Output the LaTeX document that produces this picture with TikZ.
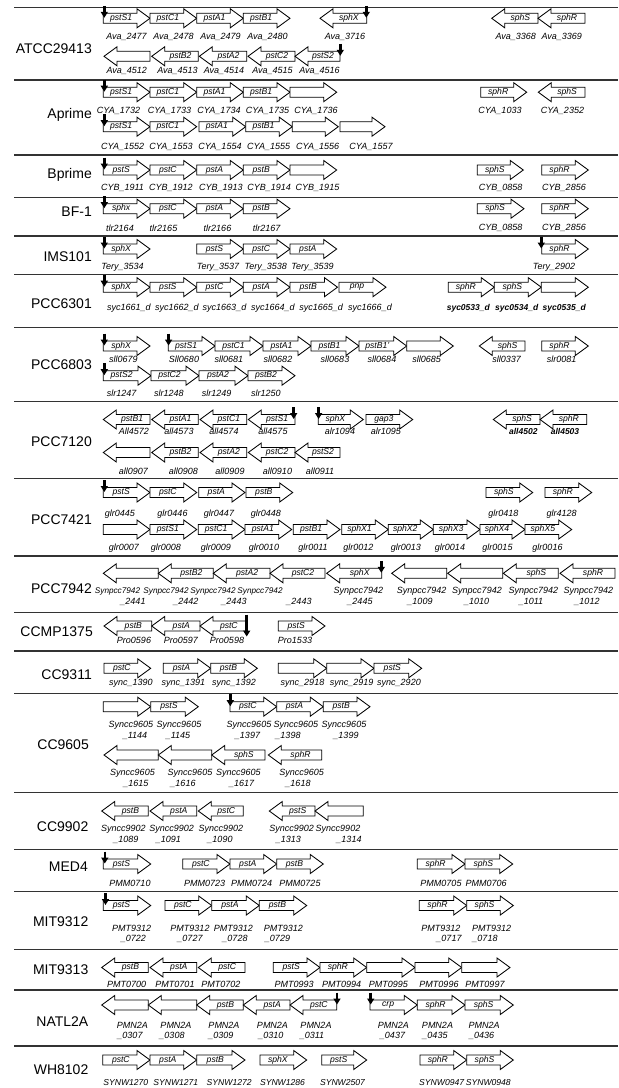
\documentclass[tikz,border=0pt]{standalone}
\usepackage{fontspec}
\setmainfont{Liberation Sans}
\usetikzlibrary{arrows.meta}
\newcounter{gn}\newcounter{gi}\newcounter{mk}\newcounter{og}
\tikzset{
  genebox/.style={draw=black,line width=0.85pt,fill=white,line join=miter},
  gname/.style={font=\fontsize{8.6}{9}\selectfont\itshape,inner sep=0pt},
  gidst/.style={font=\fontsize{9}{10}\selectfont\itshape,inner sep=0pt},
  gidsm/.style={font=\fontsize{8.2}{10}\selectfont\itshape,inner sep=0pt},
  gidbf/.style={font=\fontsize{8.5}{10}\selectfont\itshape\bfseries,inner sep=0pt},
  pmarker/.style={line width=2.6pt,-{Triangle[width=7pt,length=6pt]}},
  sepline/.style={line width=1.1pt,draw=black!80},
  orglabel/.style={font=\fontsize{14}{16}\selectfont,anchor=east,inner sep=0pt}
}
% right-pointing gene: tail x, tip x, centre y, name
\newcommand\geneR[4]{\stepcounter{gn}%
  \draw[genebox] (#1,#3-5) -- (#2-13,#3-5) -- (#2-13,#3-9.5) -- (#2,#3) -- (#2-13,#3+9.5) -- (#2-13,#3+5) -- (#1,#3+5) -- cycle;
  \node[gname] (g\thegn) at ({(#1+#2-13)/2+1},#3) {#4};}
% left-pointing gene: tip x, tail x, centre y, name
\newcommand\geneL[4]{\stepcounter{gn}%
  \draw[genebox] (#2,#3-5) -- (#1+13,#3-5) -- (#1+13,#3-9.5) -- (#1,#3) -- (#1+13,#3+9.5) -- (#1+13,#3+5) -- (#2,#3+5) -- cycle;
  \node[gname] (g\thegn) at ({(#1+13+#2)/2-1},#3) {#4};}
\newcommand\gid[3]{\stepcounter{gi}\node[gidst] (l\thegi) at (#1,#2) {#3};}
\newcommand\gids[3]{\stepcounter{gi}\node[gidst,font=\fontsize{8.6}{10}\selectfont\itshape] (l\thegi) at (#1,#2) {#3};}
\newcommand\gidb[3]{\stepcounter{gi}\node[gidbf] (l\thegi) at (#1,#2) {#3};}
\newcommand\gidd[6]{\stepcounter{gi}\node[gidst] (l\thegi a) at (#1,#3) {#5};\node[gidst] (l\thegi b) at (#2,#4) {#6};}
\newcommand\giddsm[6]{\stepcounter{gi}\node[gidsm] (l\thegi a) at (#1,#3) {#5};\node[gidst] (l\thegi b) at (#2,#4) {#6};}
\newcommand\pmark[2]{\stepcounter{mk}\coordinate (m\themk a) at (#1,#2-12.5);\coordinate (m\themk b) at (#1,#2-0.5);\draw[pmarker] (m\themk a) -- (m\themk b);}
\newcommand\org[3]{\stepcounter{og}\node[orglabel] (o\theog) at (#1,#2) {#3};}
\begin{document}
\begin{tikzpicture}[x=1pt,y=-1pt]
\useasboundingbox[fill=white] (0,0) rectangle (619,1088);
% separators
\foreach \yy [count=\i] in {7.3,80,155,197.3,236,274.3,327.7,401.7,478.3,556,612.7,651,693.3,792.7,849.3,891.7,949.3,990,1046}{
  \coordinate (sa\i) at (14,\yy); \coordinate (sb\i) at (618,\yy);
  \draw[sepline] (sa\i) -- (sb\i);}
% organism labels
\org{92}{48.3}{ATCC29413}
\org{92}{115}{Aprime}
\org{92}{175}{Bprime}
\org{92}{211.7}{BF-1}
\org{92}{256.7}{IMS101}
\org{92}{303.3}{PCC6301}
\org{92}{365}{PCC6803}
\org{92}{441.7}{PCC7120}
\org{92}{520}{PCC7421}
\org{92}{588.3}{PCC7942}
\org{93}{631.7}{CCMP1375}
\org{92}{675}{CC9311}
\org{89}{745}{CC9605}
\org{88.5}{826.7}{CC9902}
\org{88}{866.7}{MED4}
\org{88.5}{921.7}{MIT9312}
\org{88.5}{970}{MIT9313}
\org{88.5}{1021.7}{NATL2A}
\org{88.5}{1070}{WH8102}
% ATCC29413 row 1
\geneR{103.3}{150}{18.3}{pstS1}\geneR{150}{196.7}{18.3}{pstC1}\geneR{196.7}{243.3}{18.3}{pstA1}\geneR{243.3}{290}{18.3}{pstB1}
\geneL{320}{366.7}{18.3}{sphX}\geneL{491.7}{538}{18.3}{sphS}\geneL{538}{585}{18.3}{sphR}
\pmark{104.3}{18.3}\pmark{366.3}{18.3}
\gid{126.5}{36.8}{Ava\_2477}\gid{173.5}{36.8}{Ava\_2478}\gid{220.5}{36.8}{Ava\_2479}\gid{267.5}{36.8}{Ava\_2480}
\gid{345}{36.8}{Ava\_3716}\gid{515.7}{36.8}{Ava\_3368}\gid{561.7}{36.8}{Ava\_3369}
% ATCC29413 row 2
\geneL{104}{150}{56.3}{}\geneL{151.7}{198.3}{56.3}{pstB2}\geneL{199.3}{246.7}{56.3}{pstA2}\geneL{248}{295}{56.3}{pstC2}\geneL{295}{340}{56.3}{pstS2}
\pmark{340.3}{56.3}
\gid{126.7}{71}{Ava\_4512}\gid{177.5}{71}{Ava\_4513}\gid{224}{71}{Ava\_4514}\gid{272.5}{71}{Ava\_4515}\gid{319.5}{71}{Ava\_4516}
% Aprime row 1
\geneR{103.3}{150}{92.2}{pstS1}\geneR{150}{196.7}{92.2}{pstC1}\geneR{196.7}{243.3}{92.2}{pstA1}\geneR{243.3}{290}{92.2}{pstB1}\geneR{290}{336.7}{92.2}{}
\geneR{480.7}{526.7}{92.2}{sphR}\geneL{538.3}{585}{92.2}{sphS}
\pmark{104.3}{92.2}
\gid{118.5}{111}{CYA\_1732}\gid{169.5}{111}{CYA\_1733}\gid{219}{111}{CYA\_1734}\gid{267.5}{111}{CYA\_1735}\gid{316}{111}{CYA\_1736}
\gid{500}{111}{CYA\_1033}\gid{562.5}{111}{CYA\_2352}
% Aprime row 2
\geneR{103.3}{150}{126.7}{pstS1}\geneR{150}{196.7}{126.7}{pstC1}\geneR{199}{245.7}{126.7}{pstA1}\geneR{245.7}{292.3}{126.7}{pstB1}\geneR{292.3}{338.3}{126.7}{}\geneR{340}{385}{126.7}{}
\pmark{104.3}{126.7}
\gid{122.7}{146.7}{CYA\_1552}\gid{171}{146.7}{CYA\_1553}\gid{220}{146.7}{CYA\_1554}\gid{268.7}{146.7}{CYA\_1555}\gid{317.7}{146.7}{CYA\_1556}\gid{371}{146.7}{CYA\_1557}
% Bprime
\geneR{103.3}{150}{170}{pstS}\geneR{150}{196.7}{170}{pstC}\geneR{196.7}{243.3}{170}{pstA}\geneR{243.3}{290}{170}{pstB}\geneR{290}{336.7}{170}{}
\geneR{477.3}{523.3}{170}{sphS}\geneR{541.7}{588.3}{170}{sphR}
\pmark{104.3}{170}
\gid{122.5}{188.3}{CYB\_1911}\gid{170.8}{188.3}{CYB\_1912}\gid{220.8}{188.3}{CYB\_1913}\gid{269.2}{188.3}{CYB\_1914}\gid{317.5}{188.3}{CYB\_1915}
\gid{500.7}{188.3}{CYB\_0858}\gid{564}{188.3}{CYB\_2856}
% BF-1
\geneR{103.3}{150}{208.7}{sphx}\geneR{150}{196.7}{208.7}{pstC}\geneR{196.7}{243.3}{208.7}{pstA}\geneR{243.3}{290}{208.7}{pstB}
\geneR{477.3}{524}{208.7}{sphS}\geneR{541.7}{588.3}{208.7}{sphR}
\pmark{104.3}{208.7}
\gid{120}{228.3}{tlr2164}\gid{163.5}{228.3}{tlr2165}\gid{217.5}{228.3}{tlr2166}\gid{266.7}{228.3}{tlr2167}
\gid{500.7}{228.3}{CYB\_0858}\gid{564}{228.3}{CYB\_2856}
% IMS101
\geneR{103.3}{150}{249}{sphX}\geneR{196.7}{243.3}{249}{pstS}\geneR{243.3}{290}{249}{pstC}\geneR{290}{336.7}{249}{pstA}
\geneR{541.7}{588.3}{249}{sphR}
\pmark{104.3}{249}\pmark{541.3}{249}
\gid{122.5}{267.3}{Tery\_3534}\gid{218}{267.3}{Tery\_3537}\gid{265.8}{267.3}{Tery\_3538}\gid{312.5}{267.3}{Tery\_3539}\gid{554}{267.3}{Tery\_2902}
% PCC6301
\geneR{103.3}{150}{287.2}{sphX}\geneR{150}{196.7}{287.2}{pstS}\geneR{196.7}{243.3}{287.2}{pstC}\geneR{243.3}{290}{287.2}{pstA}\geneR{290}{337.5}{287.2}{pstB}\geneR{339}{386}{287.2}{pnp}
\geneR{448.3}{494.3}{287.2}{sphR}\geneR{494.3}{541.3}{287.2}{sphS}\geneR{541.3}{588.3}{287.2}{}
\pmark{104.3}{287.2}
\gid{128.8}{308.3}{syc1661\_d}\gid{176.8}{308.3}{syc1662\_d}\gid{224.5}{308.3}{syc1663\_d}\gid{272.8}{308.3}{syc1664\_d}\gid{321.2}{308.3}{syc1665\_d}\gid{370}{308.3}{syc1666\_d}
\gidb{468.3}{308.3}{syc0533\_d}\gidb{516.7}{308.3}{syc0534\_d}\gidb{564.2}{308.3}{syc0535\_d}
% PCC6803 row 1
\geneR{103.3}{150}{346}{sphX}\geneR{168.3}{215}{346}{pstS1}\geneR{215}{263}{346}{pstC1}\geneR{263}{311}{346}{pstA1}\geneR{311}{359}{346}{pstB1}\geneR{359}{406.7}{346}{pstB1'}\geneR{406.7}{453.3}{346}{}
\geneL{479.3}{525}{346}{sphS}\geneR{541.7}{588.3}{346}{sphR}
\pmark{104.3}{346}\pmark{168.6}{346}
\gid{123.3}{359.5}{sll0679}\gid{184}{359.5}{Sll0680}\gid{229}{359.5}{sll0681}\gid{278}{359.5}{sll0682}\gid{335}{359.5}{sll0683}\gid{382}{359.5}{sll0684}\gid{426.7}{359.5}{sll0685}
\gid{506.7}{359.5}{sll0337}\gid{561.7}{359.5}{slr0081}
% PCC6803 row 2
\geneR{103.3}{151}{375.7}{pstS2}\geneR{151}{199}{375.7}{pstC2}\geneR{199}{248}{375.7}{pstA2}\geneR{248}{295}{375.7}{pstB2}
\pmark{104.3}{375.7}
\gid{121.7}{393.3}{slr1247}\gid{169}{393.3}{slr1248}\gid{216.7}{393.3}{slr1249}\gid{265.8}{393.3}{slr1250}
% PCC7120 row 1
\geneL{103.3}{150}{419.5}{pstB1}\geneL{151.7}{198.3}{419.5}{pstA1}\geneL{200}{246.7}{419.5}{pstC1}\geneL{248.3}{295}{419.5}{pstS1}
\geneR{318.3}{363.3}{419.5}{sphX}\geneR{366}{412.7}{419.5}{gap3}
\geneL{493.3}{540}{419.5}{sphS}\geneL{540}{586.7}{419.5}{sphR}
\pmark{293.7}{419.5}\pmark{318.6}{419.5}
\gid{134}{431.7}{All4572}\gid{179}{431.7}{all4573}\gid{224}{431.7}{all4574}\gid{273}{431.7}{all4575}\gid{340}{431.7}{alr1094}\gid{385.8}{431.7}{alr1095}
\gidb{523.3}{431.7}{all4502}\gidb{565}{431.7}{all4503}
% PCC7120 row 2
\geneL{103.3}{150}{452.5}{}\geneL{151.7}{198.3}{452.5}{pstB2}\geneL{200}{246.7}{452.5}{pstA2}\geneL{248.3}{295}{452.5}{pstC2}\geneL{295}{340}{452.5}{pstS2}
\gid{133.3}{471.7}{all0907}\gid{183.3}{471.7}{all0908}\gid{230}{471.7}{all0909}\gid{277.5}{471.7}{all0910}\gid{320}{471.7}{all0911}
% PCC7421 row 1
\geneR{103.3}{150}{492.5}{pstS}\geneR{150}{196.7}{492.5}{pstC}\geneR{198.7}{245}{492.5}{pstA}\geneR{246}{292.7}{492.5}{pstB}
\geneR{486}{532.7}{492.5}{sphS}\geneR{545}{591.7}{492.5}{sphR}
\pmark{104.3}{492.5}
\gid{120}{514}{glr0445}\gid{172.5}{514}{glr0446}\gid{219}{514}{glr0447}\gid{265.8}{514}{glr0448}\gid{503.3}{514}{glr0418}\gid{561.7}{514}{glr4128}
% PCC7421 row 2
\geneR{103.3}{150}{529.5}{}\geneR{150}{196.7}{529.5}{pstS1}\geneR{198.3}{245}{529.5}{pstC1}\geneR{245}{291.7}{529.5}{pstA1}\geneR{293.3}{340}{529.5}{pstB1}
\geneR{341.7}{388.3}{529.5}{sphX1}\geneR{388.3}{433.3}{529.5}{sphX2}\geneR{433.3}{480}{529.5}{sphX3}\geneR{480}{525}{529.5}{sphX4}\geneR{525}{571.7}{529.5}{sphX5}
\gid{124}{548.3}{glr0007}\gid{165.8}{548.3}{glr0008}\gid{215.8}{548.3}{glr0009}\gid{264}{548.3}{glr0010}\gid{313}{548.3}{glr0011}
\gid{358.3}{548.3}{glr0012}\gid{405.8}{548.3}{glr0013}\gid{450}{548.3}{glr0014}\gid{497.5}{548.3}{glr0015}\gid{547.5}{548.3}{glr0016}
% PCC7942
\geneL{103.3}{158.3}{573.3}{}\geneL{158.3}{213.3}{573.3}{pstB2}\geneL{213.3}{270}{573.3}{pstA2}\geneL{270}{325}{573.3}{pstC2}\geneL{326.7}{381.7}{573.3}{sphX}
\geneL{391.7}{446.7}{573.3}{}\geneL{447.7}{502.7}{573.3}{}\geneL{503.3}{558.3}{573.3}{sphS}\geneL{560}{615}{573.3}{sphR}
\pmark{381.3}{573.3}
\giddsm{117.5}{133}{591.7}{602.3}{Synpcc7942}{\_2441}\giddsm{166}{185.8}{591.7}{602.3}{Synpcc7942}{\_2442}
\giddsm{213}{234}{591.7}{602.3}{Synpcc7942}{\_2443}\giddsm{260}{299}{591.7}{602.3}{Synpcc7942}{\_2443}
\gidd{358.3}{360}{591.7}{602.3}{Synpcc7942}{\_2445}\gidd{421.7}{420}{591.7}{602.3}{Synpcc7942}{\_1009}\gidd{477}{476.7}{591.7}{602.3}{Synpcc7942}{\_1010}
\gidd{533.3}{531}{591.7}{602.3}{Synpcc7942}{\_1011}\gidd{588.3}{587}{591.7}{602.3}{Synpcc7942}{\_1012}
% CCMP1375
\geneL{104}{151.7}{626}{pstB}\geneL{151.7}{200}{626}{pstA}\geneL{200}{246.7}{626}{pstC}\geneR{278.3}{325}{626}{pstS}
\coordinate (cma) at (246.7,614.5);\coordinate (cmb) at (246.7,636.5);\draw[pmarker] (cma) -- (cmb);
\gid{134}{640.5}{Pro0596}\gid{180.8}{640.5}{Pro0597}\gid{227}{640.5}{Pro0598}\gid{295}{640.5}{Pro1533}
% CC9311
\geneR{104}{150.7}{668.3}{pstC}\geneR{163.3}{210.7}{668.3}{pstA}\geneR{210.7}{257.3}{668.3}{pstB}\geneR{278.3}{326.7}{668.3}{}\geneR{326.7}{374}{668.3}{}\geneR{374}{421.7}{668.3}{pstS}
\gid{130.8}{683.3}{sync\_1390}\gid{183.3}{683.3}{sync\_1391}\gid{234}{683.3}{sync\_1392}\gid{302.5}{683.3}{sync\_2918}\gid{351.7}{683.3}{sync\_2919}\gid{399}{683.3}{sync\_2920}
% CC9605 row 1
\geneR{103.3}{150.7}{706.7}{}\geneR{150.7}{198.3}{706.7}{pstS}\geneR{230}{276.7}{706.7}{pstC}\geneR{276.7}{323.3}{706.7}{pstA}\geneR{323.3}{370}{706.7}{pstB}
\pmark{230.3}{706.7}
\gidd{130.8}{135}{725}{735.5}{Syncc9605}{\_1144}\gidd{179}{178}{725}{735.5}{Syncc9605}{\_1145}\gidd{249}{247.5}{725}{735.5}{Syncc9605}{\_1397}
\gidd{295.8}{288}{725}{735.5}{Syncc9605}{\_1398}\gidd{344}{346}{725}{735.5}{Syncc9605}{\_1399}
% CC9605 row 2
\geneL{104}{158.3}{755}{}\geneL{158.3}{211.7}{755}{}\geneL{211.7}{265}{755}{sphS}\geneL{268.3}{321.7}{755}{sphR}
\gidd{132.5}{135.8}{773.3}{784}{Syncc9605}{\_1615}\gidd{190}{183}{773.3}{784}{Syncc9605}{\_1616}\gidd{238.3}{241.7}{773.3}{784}{Syncc9605}{\_1617}\gidd{301.7}{298}{773.3}{784}{Syncc9605}{\_1618}
% CC9902
\geneL{101.7}{148.3}{811}{pstB}\geneL{150}{196.7}{811}{pstA}\geneL{198.3}{243.3}{811}{pstC}\geneL{269.3}{315}{811}{pstS}\geneL{315}{363.3}{811}{}
\gidd{123.3}{125.8}{829.3}{840}{Syncc9902}{\_1089}\gidd{171.7}{168.3}{829.3}{840}{Syncc9902}{\_1091}\gidd{220.8}{220}{829.3}{840}{Syncc9902}{\_1090}
\gidd{291.7}{288.3}{829.3}{840}{Syncc9902}{\_1313}\gidd{338}{349}{829.3}{840}{Syncc9902}{\_1314}
% MED4
\geneR{103.3}{150.7}{864}{pstS}\geneR{182.7}{230}{864}{pstC}\geneR{230}{276.7}{864}{pstA}\geneR{276.7}{323.3}{864}{pstB}
\geneR{417.3}{465}{864}{sphR}\geneR{465}{512.7}{864}{sphS}
\pmark{104.8}{864}
\gid{130}{883.3}{PMM0710}\gid{204.7}{883.3}{PMM0723}\gid{251.7}{883.3}{PMM0724}\gid{300}{883.3}{PMM0725}\gid{441}{883.3}{PMM0705}\gid{486.2}{883.3}{PMM0706}
% MIT9312
\geneR{103.3}{150.7}{905.5}{pstS}\geneR{165}{211.7}{905.5}{pstC}\geneR{211.7}{259.3}{905.5}{pstA}\geneR{259.3}{306.7}{905.5}{pstB}
\geneR{419.3}{466.7}{905.5}{sphR}\geneR{466.7}{513.3}{905.5}{sphS}
\pmark{105.5}{905.5}
\gidd{131.7}{133.3}{928.3}{939}{PMT9312}{\_0722}\gidd{190}{190}{928.3}{939}{PMT9312}{\_0727}\gidd{233.3}{235}{928.3}{939}{PMT9312}{\_0728}
\gidd{283.3}{277.5}{928.3}{939}{PMT9312}{\_0729}\gidd{440.8}{449}{928.3}{939}{PMT9312}{\_0717}\gidd{491.7}{485}{928.3}{939}{PMT9312}{\_0718}
% MIT9313
\geneL{101.7}{148.3}{967.5}{pstB}\geneL{150}{196.7}{967.5}{pstA}\geneL{198.3}{245}{967.5}{pstC}
\geneR{273.3}{320}{967.5}{pstS}\geneR{320}{366.7}{967.5}{sphR}\geneR{366.7}{415}{967.5}{}\geneR{415}{461.7}{967.5}{}\geneR{461.7}{510}{967.5}{}
\gid{126.7}{984}{PMT0700}\gid{175}{984}{PMT0701}\gid{220.8}{984}{PMT0702}\gid{294.2}{984}{PMT0993}\gid{341.7}{984}{PMT0994}\gid{388.3}{984}{PMT0995}\gid{439}{984}{PMT0996}\gid{485}{984}{PMT0997}
% NATL2A
\geneL{101.7}{148.3}{1005}{}\geneL{148.3}{196.7}{1005}{}\geneL{196.7}{243.3}{1005}{pstB}\geneL{243.3}{290}{1005}{pstA}\geneL{290}{336.7}{1005}{pstC}
\geneR{370}{417.3}{1005}{crp}\geneR{417.3}{465}{1005}{sphR}\geneR{465}{513.3}{1005}{sphS}
\pmark{337}{1005}\pmark{370.7}{1005}
\gidd{132.5}{130}{1025}{1036}{PMN2A}{\_0307}\gidd{176}{172}{1025}{1036}{PMN2A}{\_0308}\gidd{224}{220.8}{1025}{1036}{PMN2A}{\_0309}\gidd{272.5}{270.8}{1025}{1036}{PMN2A}{\_0310}
\gidd{316}{312}{1025}{1036}{PMN2A}{\_0311}\gidd{393.3}{392.5}{1025}{1036}{PMN2A}{\_0437}\gidd{437.5}{435}{1025}{1036}{PMN2A}{\_0435}\gidd{484.2}{481.7}{1025}{1036}{PMN2A}{\_0436}
% WH8102
\geneR{102.7}{150}{1060}{pstC}\geneR{150}{196.7}{1060}{pstA}\geneR{196.7}{245}{1060}{pstB}\geneR{260}{306.7}{1060}{sphX}\geneR{321.7}{366.7}{1060}{pstS}
\geneR{420}{466.7}{1060}{sphR}\geneR{466.7}{513.3}{1060}{sphS}
\gids{125.8}{1082.5}{SYNW1270}\gids{175.8}{1082.5}{SYNW1271}\gids{229.2}{1082.5}{SYNW1272}\gids{282.5}{1082.5}{SYNW1286}\gids{342.5}{1082.5}{SYNW2507}\gids{441.7}{1082.5}{SYNW0947}\gids{488.3}{1082.5}{SYNW0948}
\end{tikzpicture}
\end{document}
